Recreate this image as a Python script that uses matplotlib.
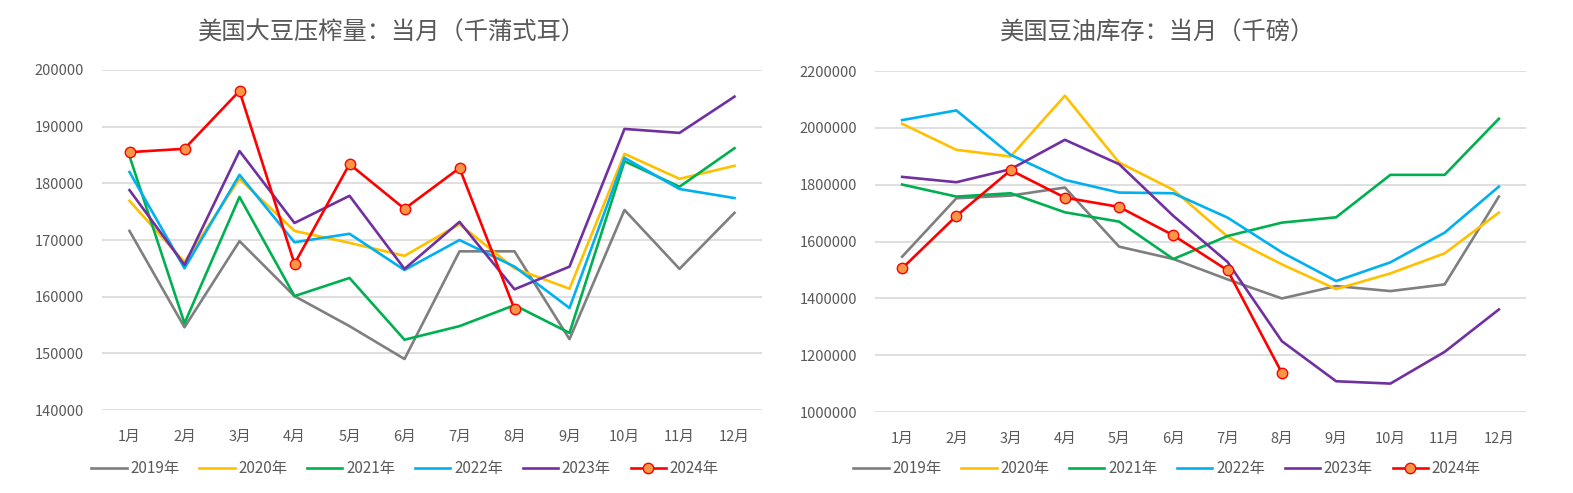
import numpy as np
import matplotlib
matplotlib.use("Agg")
import matplotlib.pyplot as plt
from matplotlib.ticker import FixedLocator

plt.rcParams["font.family"] = ["Noto Sans CJK SC", "DejaVu Sans"]

months = [f"{i}月" for i in range(1, 13)]
years = ["2019年", "2020年", "2021年", "2022年", "2023年", "2024年"]
colors = ["#7f7f7f", "#ffc000", "#00b050", "#00b0f0", "#7030a0", "#ff0000"]

# 美国大豆压榨量（千蒲式耳）
crush_2019 = [171600, 154600, 169800, 160100, 154800, 149000, 168000, 168000, 152500, 175300, 164900, 174800]
crush_2020 = [176900, 166100, 180800, 171600, 169500, 167200, 172800, 165000, 161400, 185200, 180800, 183100]
crush_2021 = [184800, 155300, 177600, 160100, 163300, 152400, 154800, 158500, 153600, 183900, 179400, 186200]
crush_2022 = [182000, 165000, 181500, 169600, 171100, 164700, 170000, 165300, 158000, 184500, 179000, 177400]
crush_2023 = [178800, 165600, 185700, 173000, 177800, 164900, 173200, 161300, 165300, 189600, 188900, 195300]
crush_2024 = [185500, 186100, 196300, 165800, 183400, 175500, 182700, 157800]

# 美国豆油库存（千磅）
oil_2019 = [1546500, 1752200, 1761600, 1789800, 1581800, 1538300, 1466600, 1399600, 1443100, 1425500, 1448900, 1758100]
oil_2020 = [2014300, 1922600, 1899100, 2113000, 1878000, 1781600, 1617000, 1519500, 1432500, 1487800, 1558300, 1701700]
oil_2021 = [1800400, 1758100, 1769800, 1702800, 1669900, 1538300, 1619400, 1666400, 1685200, 1834500, 1834500, 2032000]
oil_2022 = [2027200, 2061300, 1905000, 1816800, 1772200, 1769800, 1684000, 1561800, 1460800, 1526600, 1631100, 1793300]
oil_2023 = [1827400, 1808600, 1854500, 1957900, 1872100, 1690000, 1527700, 1249200, 1108200, 1100000, 1211600, 1360800]
oil_2024 = [1505400, 1690000, 1850900, 1754500, 1721700, 1621700, 1498400, 1137600]

crush = [crush_2019, crush_2020, crush_2021, crush_2022, crush_2023, crush_2024]
oil = [oil_2019, oil_2020, oil_2021, oil_2022, oil_2023, oil_2024]

TXT = "#595959"
GRID = "#d9d9d9"

fig = plt.figure(figsize=(15.73, 4.93), dpi=100)


def panel(rect, series, ylim, step, title, title_x, leg_x):
    ax = fig.add_axes(rect)
    x = np.arange(12)
    handles = []
    for s, c, lab in zip(series, colors, years):
        xs = x[:len(s)]
        if lab == "2024年":
            h, = ax.plot(xs, s, color=c, lw=1.9, marker="o", ms=7.5,
                         mfc="#f79646", mec=c, mew=1.0, label=lab, zorder=4)
        else:
            h, = ax.plot(xs, s, color=c, lw=1.9, label=lab, zorder=3)
        handles.append(h)
    ax.set_xlim(-0.5, 11.5)
    ax.set_ylim(*ylim)
    ticks = np.arange(ylim[0], ylim[1] + 1, step)
    ax.yaxis.set_major_locator(FixedLocator(ticks))
    ax.set_yticklabels([f"{int(v)}" for v in ticks])
    ax.set_xticks(x)
    ax.set_xticklabels(months)
    ax.yaxis.grid(True, color=GRID, lw=1.2, zorder=0)
    ax.set_axisbelow(True)
    for s in ax.spines.values():
        s.set_visible(False)
    ax.tick_params(axis="both", length=0, colors=TXT, labelsize=10.5)
    ax.tick_params(axis="y", pad=13)
    ax.tick_params(axis="x", pad=14)
    fig.text(title_x / 1573, 1 - 33 / 493, title, ha="center", va="center",
             fontsize=17.5, color=TXT)
    fig.legend(handles=handles, loc="center", bbox_to_anchor=(leg_x / 1573, 1 - 469 / 493),
               ncol=6, frameon=False, fontsize=11, labelcolor=TXT,
               handlelength=2.3, handletextpad=0.25, columnspacing=1.3)
    return ax


panel([102 / 1573, 83 / 493, 660 / 1573, 340 / 493], crush, (140000, 200000), 10000,
      "美国大豆压榨量：当月（千蒲式耳）", 392, 405)
panel([875 / 1573, 81 / 493, 651 / 1573, 341 / 493], oil, (1000000, 2200000), 200000,
      "美国豆油库存：当月（千磅）", 1158, 1167)

fig.savefig("out.png", dpi=100)
